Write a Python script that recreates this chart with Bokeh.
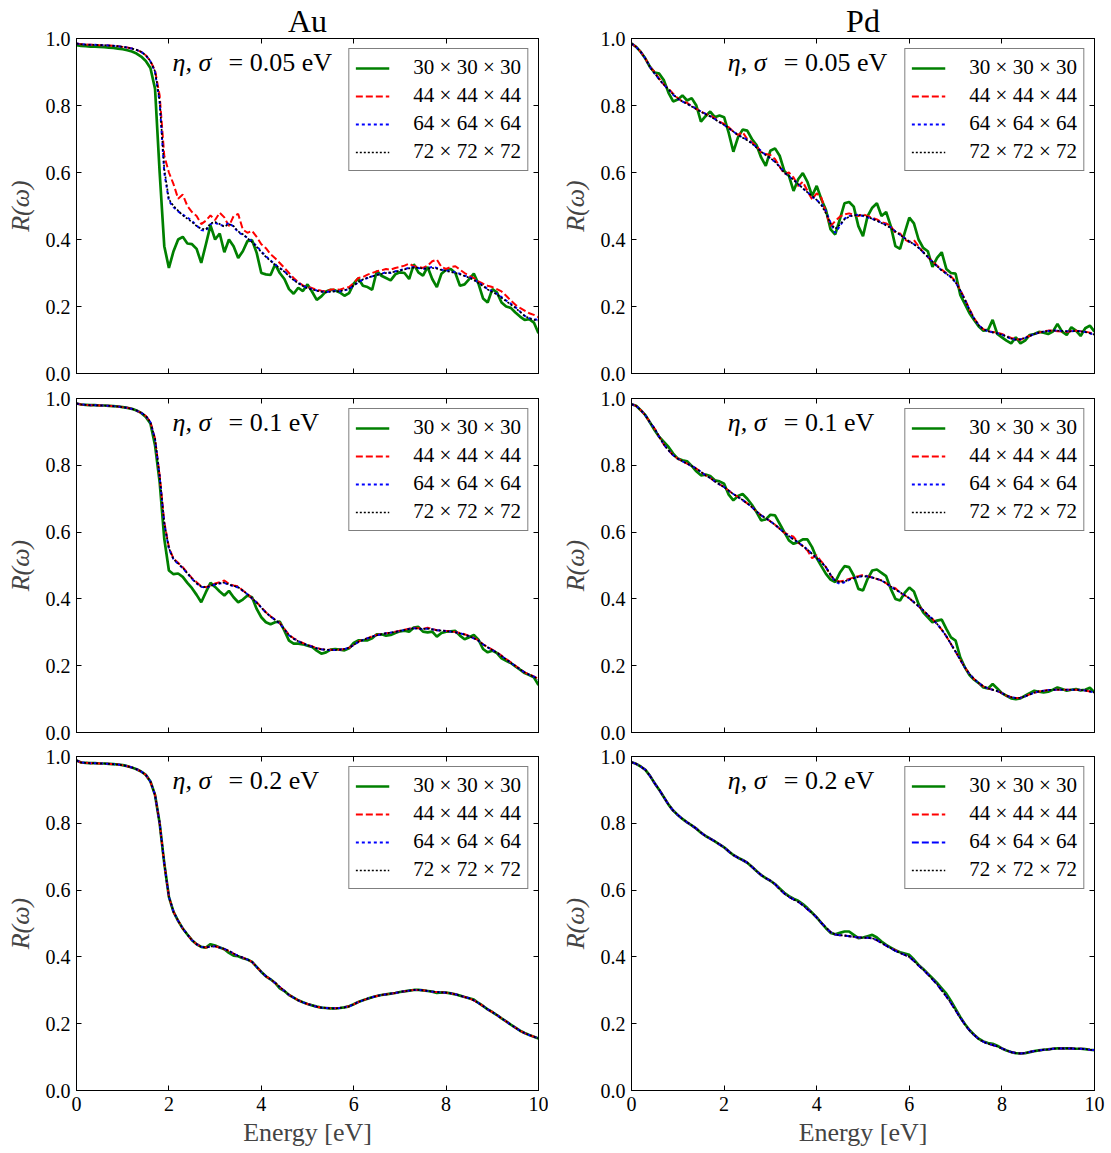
from bokeh.plotting import figure
from bokeh.layouts import column, row
from bokeh.models import (LinearAxis, Legend, LegendItem, Label, FixedTicker,
                          CustomJSTickFormatter, Range1d, PrintfTickFormatter)
from bokeh.embed import file_html
from bokeh.resources import INLINE

FONT = "Liberation Serif"

# ---------------- data ----------------
energy = [round(0.1 * i, 1) for i in range(101)]
grid_labels = ["30 \u00d7 30 \u00d7 30", "44 \u00d7 44 \u00d7 44",
               "64 \u00d7 64 \u00d7 64", "72 \u00d7 72 \u00d7 72"]
metals = ["Au", "Pd"]
broadenings = ["0.05", "0.1", "0.2"]
x_ticks = [0, 2, 4, 6, 8, 10]
y_ticks = [0.0, 0.2, 0.4, 0.6, 0.8, 1.0]

# Au, eta = sigma = 0.05 eV
au05_30 = [.980, .978, .977, .976, .976, .975, .974, .973, .972, .970,
           .968, .965, .961, .955, .946, .933, .912, .850, .600, .380,
           .315, .365, .400, .408, .388, .386, .372, .330, .385, .442,
           .400, .418, .362, .400, .380, .345, .365, .395, .398, .360,
           .300, .296, .294, .326, .300, .282, .252, .238, .256, .246,
           .266, .244, .220, .230, .245, .250, .248, .242, .232, .240,
           .268, .284, .262, .258, .250, .306, .292, .285, .278, .296,
           .302, .300, .282, .326, .302, .292, .318, .282, .258, .298,
           .310, .312, .300, .262, .266, .282, .298, .268, .224, .212,
           .252, .242, .212, .200, .196, .182, .170, .160, .162, .152,
           .120]
au05_44 = [.985, .983, .982, .981, .981, .980, .980, .979, .978, .977,
           .975, .973, .970, .966, .960, .950, .932, .905, .830, .650,
           .600, .565, .522, .534, .500, .482, .470, .446, .456, .472,
           .458, .480, .466, .440, .470, .476, .430, .420, .426, .408,
           .386, .374, .356, .344, .330, .315, .300, .285, .273, .263,
           .258, .255, .250, .247, .245, .250, .252, .250, .255, .258,
           .270, .285, .288, .295, .300, .305, .308, .312, .310, .315,
           .318, .322, .328, .320, .318, .315, .322, .335, .340, .318,
           .312, .318, .320, .310, .300, .292, .285, .275, .268, .262,
           .258, .252, .245, .232, .218, .205, .196, .188, .180, .175,
           .168]
au05_64 = [.985, .983, .982, .981, .981, .980, .980, .979, .978, .977,
           .975, .973, .970, .966, .960, .950, .932, .900, .810, .600,
           .515, .496, .484, .474, .466, .455, .442, .428, .426, .446,
           .450, .444, .440, .450, .438, .422, .414, .405, .394, .380,
           .365, .350, .338, .325, .315, .305, .292, .280, .270, .262,
           .255, .252, .248, .245, .243, .245, .246, .245, .248, .252,
           .262, .272, .280, .285, .290, .295, .298, .302, .300, .305,
           .308, .312, .315, .318, .315, .312, .315, .318, .315, .310,
           .308, .305, .302, .298, .292, .288, .280, .272, .262, .252,
           .245, .238, .228, .218, .208, .198, .185, .172, .165, .162,
           .160]
au05_72 = [.985, .983, .982, .981, .981, .980, .980, .979, .978, .977,
           .975, .973, .970, .966, .960, .950, .933, .902, .815, .610,
           .520, .500, .486, .472, .462, .452, .440, .432, .430, .448,
           .452, .446, .438, .446, .440, .424, .416, .404, .392, .378,
           .362, .348, .336, .324, .314, .304, .291, .279, .269, .261,
           .254, .251, .247, .244, .242, .244, .245, .246, .249, .253,
           .263, .273, .281, .286, .290, .294, .297, .300, .302, .304,
           .307, .311, .314, .316, .316, .313, .313, .315, .313, .309,
           .306, .303, .300, .296, .291, .286, .279, .270, .261, .251,
           .243, .236, .226, .216, .206, .196, .184, .172, .165, .160,
           .158]

# Au, eta = sigma = 0.1 eV
au10_30 = [.985, .982, .981, .980, .980, .979, .979, .978, .977, .976,
           .974, .972, .969, .964, .957, .945, .925, .860, .750, .580,
           .485, .474, .476, .466, .448, .432, .412, .390, .420, .448,
           .436, .422, .410, .424, .405, .390, .398, .410, .405, .370,
           .345, .330, .324, .330, .332, .305, .275, .266, .266, .264,
           .260, .256, .245, .236, .240, .248, .250, .248, .246, .252,
           .268, .276, .276, .276, .282, .294, .294, .290, .292, .298,
           .303, .305, .302, .314, .316, .302, .300, .302, .287, .298,
           .302, .303, .304, .290, .279, .285, .292, .278, .250, .240,
           .245, .238, .222, .215, .208, .198, .188, .178, .172, .165,
           .142]
au10_44 = [.985, .982, .981, .980, .980, .979, .979, .978, .977, .976,
           .974, .972, .969, .964, .957, .948, .930, .880, .770, .630,
           .555, .520, .508, .495, .478, .462, .450, .438, .435, .440,
           .446, .450, .455, .445, .440, .438, .425, .415, .402, .390,
           .375, .360, .348, .338, .328, .310, .292, .282, .274, .268,
           .262, .258, .253, .249, .248, .248, .247, .248, .250, .254,
           .262, .272, .278, .282, .288, .292, .295, .297, .299, .302,
           .305, .308, .311, .314, .312, .310, .314, .310, .306, .305,
           .304, .303, .301, .298, .294, .289, .283, .276, .264, .256,
           .248, .240, .230, .220, .210, .200, .190, .180, .174, .168,
           .160]
au10_64 = [.985, .982, .981, .980, .980, .979, .979, .978, .977, .976,
           .974, .972, .969, .964, .957, .948, .929, .878, .765, .625,
           .550, .518, .505, .492, .476, .460, .446, .436, .434, .438,
           .443, .446, .448, .442, .438, .434, .424, .414, .401, .389,
           .374, .359, .347, .337, .326, .309, .291, .281, .273, .267,
           .261, .257, .252, .249, .247, .247, .247, .248, .250, .254,
           .262, .271, .277, .282, .287, .291, .294, .297, .299, .301,
           .304, .307, .310, .312, .311, .310, .311, .309, .306, .305,
           .304, .302, .300, .297, .293, .288, .282, .275, .264, .255,
           .247, .239, .229, .219, .209, .199, .189, .180, .173, .167,
           .159]
au10_72 = [.985, .982, .981, .980, .980, .979, .979, .978, .977, .976,
           .974, .972, .969, .964, .957, .948, .929, .879, .767, .627,
           .552, .519, .506, .493, .477, .461, .447, .437, .435, .439,
           .444, .447, .449, .443, .439, .435, .425, .414, .402, .389,
           .374, .359, .347, .337, .327, .309, .291, .281, .273, .267,
           .261, .257, .252, .249, .248, .247, .247, .248, .250, .254,
           .262, .271, .277, .282, .287, .291, .294, .297, .299, .301,
           .304, .307, .310, .312, .311, .310, .311, .309, .306, .305,
           .304, .302, .300, .297, .293, .288, .282, .275, .264, .255,
           .247, .239, .229, .219, .209, .199, .189, .180, .173, .167,
           .159]

# Au, eta = sigma = 0.2 eV
au20_30 = [.988, .982, .981, .980, .980, .979, .979, .978, .977, .976,
           .974, .971, .967, .962, .955, .945, .925, .885, .800, .680,
           .580, .535, .508, .485, .467, .450, .438, .430, .428, .438,
           .434, .428, .423, .412, .404, .402, .396, .392, .385, .370,
           .355, .342, .333, .322, .306, .298, .286, .278, .270, .264,
           .259, .255, .251, .248, .247, .246, .246, .247, .249, .252,
           .258, .265, .270, .275, .279, .283, .286, .288, .290, .292,
           .295, .297, .299, .301, .301, .300, .298, .296, .292, .294,
           .293, .291, .288, .284, .280, .276, .272, .262, .253, .243,
           .235, .226, .216, .207, .197, .188, .179, .172, .166, .161,
           .156]
au20_44 = [.988, .982, .981, .980, .980, .979, .979, .978, .977, .976,
           .974, .971, .967, .962, .955, .945, .925, .885, .800, .680,
           .580, .535, .508, .485, .467, .450, .438, .430, .428, .432,
           .432, .428, .423, .418, .410, .402, .398, .392, .385, .370,
           .355, .342, .333, .322, .310, .298, .286, .278, .270, .264,
           .259, .255, .251, .248, .247, .246, .246, .247, .249, .252,
           .258, .265, .270, .275, .279, .283, .286, .288, .290, .292,
           .295, .297, .299, .301, .301, .300, .298, .296, .295, .294,
           .293, .291, .288, .284, .280, .276, .270, .262, .253, .243,
           .235, .226, .216, .207, .197, .188, .179, .172, .166, .161,
           .156]
au20_64 = [.988, .982, .981, .980, .980, .979, .979, .978, .977, .976,
           .974, .971, .967, .962, .955, .945, .925, .885, .800, .680,
           .580, .535, .508, .485, .467, .450, .438, .430, .428, .431,
           .432, .428, .424, .418, .410, .403, .398, .392, .385, .370,
           .355, .342, .333, .322, .310, .298, .286, .278, .270, .264,
           .259, .255, .251, .248, .247, .246, .246, .247, .249, .252,
           .258, .265, .270, .275, .279, .283, .286, .288, .290, .292,
           .295, .297, .299, .301, .301, .300, .298, .296, .295, .294,
           .293, .291, .288, .284, .280, .276, .270, .262, .253, .243,
           .235, .226, .216, .207, .197, .188, .179, .172, .166, .161,
           .156]
au20_72 = [.988, .982, .981, .980, .980, .979, .979, .978, .977, .976,
           .974, .971, .967, .962, .955, .945, .925, .885, .800, .680,
           .580, .535, .508, .485, .467, .450, .438, .430, .428, .431,
           .432, .428, .424, .418, .410, .403, .398, .392, .385, .370,
           .355, .342, .333, .322, .310, .298, .286, .278, .270, .264,
           .259, .255, .251, .248, .247, .246, .246, .247, .249, .252,
           .258, .265, .270, .275, .279, .283, .286, .288, .290, .292,
           .295, .297, .299, .301, .301, .300, .298, .296, .295, .294,
           .293, .291, .288, .284, .280, .276, .270, .262, .253, .243,
           .235, .226, .216, .207, .197, .188, .179, .172, .166, .161,
           .156]

# Pd, eta = sigma = 0.05 eV
pd05_30 = [.985, .975, .960, .940, .915, .898, .895, .875, .838, .812,
           .818, .830, .815, .822, .800, .752, .768, .782, .765, .770,
           .765, .718, .662, .705, .728, .725, .700, .682, .645, .620,
           .665, .672, .650, .605, .590, .545, .580, .598, .572, .530,
           .560, .520, .488, .430, .415, .460, .508, .512, .498, .440,
           .410, .470, .495, .508, .470, .482, .440, .380, .372, .420,
           .465, .448, .400, .375, .365, .318, .345, .362, .312, .300,
           .298, .235, .208, .180, .160, .140, .128, .130, .160, .118,
           .108, .098, .090, .108, .090, .098, .115, .118, .124, .122,
           .118, .125, .148, .125, .115, .138, .128, .112, .135, .143,
           .125]
pd05_44 = [.985, .975, .960, .940, .915, .900, .880, .862, .850, .835,
           .822, .812, .808, .798, .790, .782, .775, .770, .762, .752,
           .745, .735, .722, .712, .720, .700, .690, .680, .660, .655,
           .652, .640, .618, .595, .600, .585, .560, .572, .545, .520,
           .538, .525, .480, .440, .455, .468, .475, .478, .474, .470,
           .476, .470, .465, .460, .452, .448, .440, .420, .418, .400,
           .392, .398, .380, .362, .348, .335, .322, .310, .300, .290,
           .275, .250, .222, .192, .165, .145, .132, .126, .124, .122,
           .118, .112, .106, .104, .100, .108, .112, .118, .122, .126,
           .128, .128, .126, .125, .124, .127, .128, .126, .125, .122,
           .118]
pd05_64 = [.985, .975, .960, .940, .915, .895, .878, .862, .848, .832,
           .820, .812, .805, .798, .790, .782, .775, .768, .760, .750,
           .742, .732, .722, .712, .705, .698, .688, .676, .664, .652,
           .642, .632, .618, .600, .588, .578, .566, .552, .542, .528,
           .518, .505, .485, .450, .420, .440, .462, .470, .472, .474,
           .470, .466, .462, .456, .450, .444, .436, .424, .414, .404,
           .394, .386, .376, .362, .348, .334, .320, .308, .298, .288,
           .272, .248, .220, .190, .164, .144, .132, .126, .123, .120,
           .116, .110, .104, .101, .102, .106, .112, .118, .122, .125,
           .127, .128, .128, .127, .126, .126, .127, .126, .124, .120,
           .116]
pd05_72 = [.985, .975, .960, .940, .915, .896, .878, .862, .848, .833,
           .821, .812, .805, .797, .789, .781, .774, .767, .759, .750,
           .742, .733, .722, .712, .704, .696, .686, .674, .662, .652,
           .643, .632, .616, .600, .590, .578, .565, .553, .541, .530,
           .518, .502, .478, .448, .432, .444, .460, .468, .472, .473,
           .472, .467, .462, .456, .449, .442, .434, .424, .414, .404,
           .394, .386, .375, .362, .348, .334, .320, .308, .298, .287,
           .272, .248, .220, .190, .164, .144, .132, .126, .123, .120,
           .116, .110, .104, .101, .102, .106, .112, .118, .122, .125,
           .127, .128, .128, .127, .126, .126, .127, .126, .124, .120,
           .116]

# Pd, eta = sigma = 0.1 eV
pd10_30 = [.983, .978, .965, .950, .928, .905, .885, .870, .855, .835,
           .820, .815, .812, .798, .782, .770, .772, .768, .755, .752,
           .745, .712, .695, .708, .714, .700, .682, .660, .635, .638,
           .652, .650, .625, .600, .575, .565, .570, .578, .578, .555,
           .522, .498, .475, .458, .450, .478, .498, .495, .470, .430,
           .425, .460, .485, .488, .478, .468, .430, .400, .395, .418,
           .434, .422, .385, .360, .345, .330, .335, .338, .310, .285,
           .275, .225, .195, .172, .158, .148, .135, .132, .145, .132,
           .118, .110, .102, .100, .102, .110, .118, .125, .122, .120,
           .122, .128, .135, .130, .125, .128, .130, .126, .128, .134,
           .120]
pd10_44 = [.983, .978, .965, .950, .928, .910, .885, .862, .845, .830,
           .820, .812, .805, .798, .790, .780, .770, .762, .752, .743,
           .735, .724, .714, .705, .696, .686, .675, .662, .650, .642,
           .632, .622, .610, .598, .592, .586, .568, .558, .545, .522,
           .530, .512, .495, .470, .455, .452, .455, .460, .464, .468,
           .472, .468, .464, .460, .455, .447, .437, .432, .418, .411,
           .402, .390, .378, .366, .352, .340, .325, .308, .288, .265,
           .242, .218, .195, .175, .160, .148, .138, .132, .128, .124,
           .118, .110, .106, .103, .104, .108, .114, .119, .123, .125,
           .127, .128, .128, .128, .128, .128, .128, .127, .126, .123,
           .120]
pd10_64 = [.983, .978, .965, .950, .928, .910, .885, .862, .845, .830,
           .820, .812, .805, .798, .790, .780, .770, .762, .752, .743,
           .735, .724, .714, .705, .696, .686, .675, .662, .650, .642,
           .632, .622, .610, .598, .588, .578, .570, .558, .548, .535,
           .522, .510, .495, .472, .452, .445, .450, .457, .462, .466,
           .468, .467, .464, .460, .455, .447, .437, .428, .420, .411,
           .402, .390, .378, .366, .352, .340, .325, .308, .288, .265,
           .242, .218, .195, .175, .160, .148, .138, .132, .128, .124,
           .118, .110, .106, .103, .104, .108, .114, .119, .123, .125,
           .127, .128, .128, .128, .128, .128, .128, .127, .126, .123,
           .120]
pd10_72 = [.983, .978, .965, .950, .928, .910, .885, .862, .845, .830,
           .820, .812, .805, .798, .790, .780, .770, .762, .752, .743,
           .735, .724, .714, .705, .696, .686, .675, .662, .650, .642,
           .632, .622, .610, .598, .588, .578, .570, .558, .548, .535,
           .522, .510, .495, .472, .455, .450, .452, .458, .462, .466,
           .468, .467, .464, .460, .455, .447, .437, .428, .420, .411,
           .402, .390, .378, .366, .352, .340, .325, .308, .288, .265,
           .242, .218, .195, .175, .160, .148, .138, .132, .128, .124,
           .118, .110, .106, .103, .104, .108, .114, .119, .123, .125,
           .127, .128, .128, .128, .128, .128, .128, .127, .126, .123,
           .120]

# Pd, eta = sigma = 0.2 eV
pd20_30 = [.983, .978, .970, .960, .942, .920, .900, .878, .856, .838,
           .825, .813, .803, .794, .784, .772, .762, .754, .746, .737,
           .728, .716, .705, .697, .690, .682, .670, .657, .645, .636,
           .628, .618, .605, .592, .582, .574, .568, .558, .546, .532,
           .518, .502, .486, .472, .468, .472, .476, .476, .466, .456,
           .458, .462, .466, .458, .446, .436, .428, .420, .414, .410,
           .406, .392, .376, .364, .350, .336, .322, .306, .290, .268,
           .244, .220, .199, .181, .167, .155, .147, .142, .140, .134,
           .126, .120, .115, .112, .111, .112, .115, .118, .120, .122,
           .123, .125, .126, .126, .126, .126, .125, .125, .124, .122,
           .121]
pd20_44 = [.983, .978, .970, .960, .942, .920, .900, .878, .856, .838,
           .825, .813, .803, .794, .784, .772, .762, .754, .746, .737,
           .728, .716, .705, .697, .690, .682, .670, .657, .645, .636,
           .628, .618, .603, .590, .580, .572, .565, .555, .543, .532,
           .518, .502, .488, .474, .467, .465, .464, .462, .460, .458,
           .458, .457, .456, .450, .442, .434, .426, .420, .412, .406,
           .400, .388, .374, .362, .348, .333, .318, .300, .282, .262,
           .240, .218, .198, .180, .166, .154, .146, .140, .136, .132,
           .126, .120, .115, .112, .111, .112, .115, .118, .120, .122,
           .123, .125, .126, .126, .126, .126, .125, .125, .124, .122,
           .121]
pd20_64 = [.983, .978, .970, .960, .942, .920, .900, .878, .856, .838,
           .825, .813, .803, .794, .784, .772, .762, .754, .746, .737,
           .728, .716, .705, .697, .690, .682, .670, .657, .645, .636,
           .628, .618, .603, .590, .580, .572, .565, .555, .543, .532,
           .518, .502, .488, .474, .467, .465, .464, .462, .460, .458,
           .458, .457, .456, .450, .442, .434, .426, .418, .412, .406,
           .400, .388, .374, .362, .348, .333, .318, .300, .282, .262,
           .240, .218, .198, .180, .166, .154, .146, .140, .136, .132,
           .126, .120, .115, .112, .111, .112, .115, .118, .120, .122,
           .123, .125, .126, .126, .126, .126, .125, .125, .124, .122,
           .121]
pd20_72 = [.983, .978, .970, .960, .942, .920, .900, .878, .856, .838,
           .825, .813, .803, .794, .784, .772, .762, .754, .746, .737,
           .728, .716, .705, .697, .690, .682, .670, .657, .645, .636,
           .628, .618, .603, .590, .580, .572, .565, .555, .543, .532,
           .518, .502, .488, .474, .467, .465, .464, .462, .460, .458,
           .458, .457, .456, .450, .442, .434, .426, .418, .412, .406,
           .400, .388, .374, .362, .348, .333, .318, .300, .282, .262,
           .240, .218, .198, .180, .166, .154, .146, .140, .136, .132,
           .126, .120, .115, .112, .111, .112, .115, .118, .120, .122,
           .123, .125, .126, .126, .126, .126, .125, .125, .124, .122,
           .121]

panel_series = {
    ("Au", 0): [au05_30, au05_44, au05_64, au05_72],
    ("Au", 1): [au10_30, au10_44, au10_64, au10_72],
    ("Au", 2): [au20_30, au20_44, au20_64, au20_72],
    ("Pd", 0): [pd05_30, pd05_44, pd05_64, pd05_72],
    ("Pd", 1): [pd10_30, pd10_44, pd10_64, pd10_72],
    ("Pd", 2): [pd20_30, pd20_44, pd20_64, pd20_72],
}

# ---------------- styling ----------------
COLORS = ["#008000", "#ff0000", "#0000ff", "#000000"]
WIDTHS = [2.7, 2.0, 2.0, 1.7]
DASHES = ["solid", "7 3", "3 3", "2 2"]


def style_axis(ax, ticks, show_labels, fmt=None):
    ax.ticker = FixedTicker(ticks=ticks)
    ax.major_tick_in = 5
    ax.major_tick_out = 0
    ax.minor_tick_line_color = None
    ax.axis_line_color = "black"
    ax.major_tick_line_color = "black"
    ax.major_label_text_font = FONT
    ax.major_label_text_color = "black"
    if show_labels:
        ax.major_label_text_font_size = "20px"
        ax.major_label_standoff = 6
        if fmt:
            ax.formatter = PrintfTickFormatter(format=fmt)
    else:
        ax.formatter = CustomJSTickFormatter(code="return ''")
        ax.major_label_text_font_size = "0px"
        ax.major_label_standoff = 0


def make_panel(metal, ri):
    left = metal == "Au"
    p = figure(frame_width=462 if left else 463,
               frame_height=335 if ri == 0 else 334,
               x_range=Range1d(0, 10), y_range=Range1d(0, 1),
               output_backend="svg", toolbar_location=None,
               min_border_left=76 if left else 83,
               min_border_right=10 if left else 12,
               min_border_top=[38, 13, 12][ri],
               min_border_bottom=[12, 12, 60][ri],
               background_fill_color="white", border_fill_color="white",
               outline_line_color="black", outline_line_width=1)
    p.xgrid.visible = False
    p.ygrid.visible = False
    if ri == 0:
        p.title.text = metal
        p.title.align = "center"
        p.title.text_font = FONT
        p.title.text_font_size = "32px"
        p.title.text_font_style = "normal"
        p.title.text_color = "black"
        p.title.standoff = 0

    bottom = ri == 2
    style_axis(p.xaxis[0], x_ticks, bottom)
    style_axis(p.yaxis[0], y_ticks, True, "%.1f")
    if bottom:
        p.xaxis[0].axis_label = "Energy [eV]"
        p.xaxis[0].axis_label_text_font = FONT
        p.xaxis[0].axis_label_text_font_size = "26px"
        p.xaxis[0].axis_label_text_font_style = "normal"
        p.xaxis[0].axis_label_standoff = 4
    p.yaxis[0].axis_label = "R(\u03c9)"
    p.yaxis[0].axis_label_text_font = FONT
    p.yaxis[0].axis_label_text_font_size = "26px"
    p.yaxis[0].axis_label_text_font_style = "italic"
    p.yaxis[0].axis_label_standoff = 8

    top_ax = LinearAxis()
    style_axis(top_ax, x_ticks, False)
    p.add_layout(top_ax, "above")
    right_ax = LinearAxis()
    style_axis(right_ax, y_ticks, False)
    p.add_layout(right_ax, "right")

    items = []
    series = panel_series[(metal, ri)]
    for k, ys in enumerate(series):
        dash = DASHES[k]
        if metal == "Pd" and ri == 2 and k == 2:
            dash = "7 3"
        r = p.line(energy, ys, line_color=COLORS[k], line_width=WIDTHS[k],
                   line_dash=dash)
        items.append(LegendItem(label=grid_labels[k], renderers=[r]))

    legend = Legend(items=items, location="top_right",
                    label_text_font=FONT, label_text_font_size="21px",
                    label_text_color="black",
                    glyph_width=34, glyph_height=20, label_height=20,
                    label_standoff=24, spacing=3, padding=6, margin=10,
                    border_line_color="black", border_line_width=1.3,
                    background_fill_color="white", background_fill_alpha=1)
    p.add_layout(legend)

    lab1 = Label(x=2.08, y=0.928, text="\u03b7, \u03c3", text_font=FONT,
                 text_font_size="26px", text_font_style="italic",
                 text_baseline="middle", text_color="black")
    lab2 = Label(x=2.08, y=0.928, x_offset=56,
                 text="= " + broadenings[ri] + " eV", text_font=FONT,
                 text_font_size="26px", text_baseline="middle",
                 text_color="black")
    p.add_layout(lab1)
    p.add_layout(lab2)
    return p


rows = []
for ri in range(3):
    rows.append(row(make_panel("Au", ri), make_panel("Pd", ri)))
layout = column(*rows)

open("out.html", "w").write(file_html(layout, INLINE))
